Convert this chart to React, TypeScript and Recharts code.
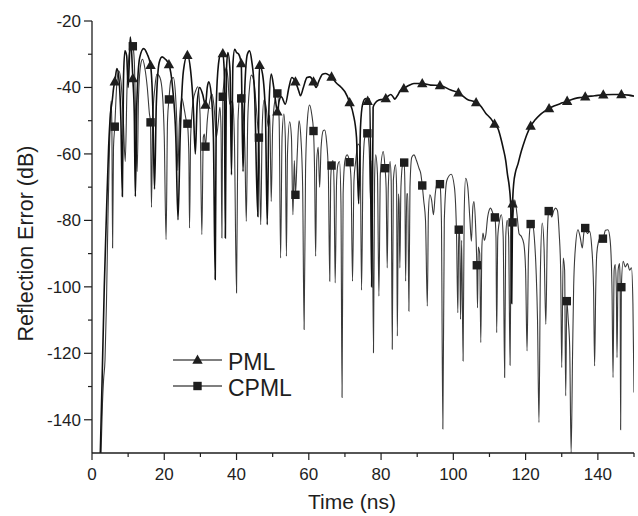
import React from 'react';
import { LineChart, Line, XAxis, YAxis } from 'recharts';

const X_MAJOR = [0, 20, 40, 60, 80, 100, 120, 140];
const X_MINOR = [10, 30, 50, 70, 90, 110, 130, 150];
const Y_MAJOR = [-140, -120, -100, -80, -60, -40, -20];
const Y_MINOR = [-130, -110, -90, -70, -50, -30];

const PML_POINTS: [number, number][] = [
  [2.3,-150],[2.8,-128],[3.4,-100],[4.0,-78],[4.6,-58],[5.1,-48],[5.6,-44],[6.0,-40],[6.3,-38.3],[6.9,-34.3],
  [7.5,-38],[8.0,-50],[8.4,-72.8],[8.7,-38],[9.1,-29],[9.6,-30.5],[10.0,-40],[10.3,-33],[10.6,-24.8],[11.0,-30],
  [11.3,-37.3],[11.7,-48],[12.0,-72.8],[12.4,-45],[13.2,-31],[14.3,-28.3],[15.3,-30],[16.2,-33.3],[16.8,-45],[17.3,-70.6],
  [17.8,-45],[18.6,-32.5],[19.4,-30.8],[20.3,-31.5],[21.3,-33.1],[22.3,-40],[23.2,-55],[23.8,-79.8],[24.4,-55],[25.3,-35],
  [26.4,-30.3],[27.3,-35],[28.0,-45],[28.6,-60],[29.1,-45],[29.8,-40],[30.6,-42],[31.4,-45.3],[31.9,-40],[32.3,-38.3],
  [33.0,-42],[33.6,-55],[34.1,-97.8],[34.4,-45],[35.0,-33],[35.6,-30],[36.2,-29.8],[36.6,-35],[36.9,-85.3],[37.2,-35],
  [37.6,-29.5],[38.2,-35],[38.6,-66.3],[39.0,-33],[39.5,-28.5],[40.0,-29.5],[40.6,-30],[41.3,-32.8],[41.8,-65.3],[42.3,-40],
  [43.0,-30],[43.6,-29],[44.2,-32],[45.0,-42],[45.9,-78.8],[46.2,-40],[46.4,-33.3],[47.2,-36],[48.0,-48],[48.5,-81.3],
  [49.0,-45],[49.6,-36],[50.3,-40],[50.8,-44],[51.3,-47.3],[51.8,-44],[52.4,-42.8],[53.5,-45],[54.5,-40],[55.3,-37],
  [56.3,-38.3],[57.2,-41],[57.7,-42.5],[58.5,-40],[59.5,-37],[60.3,-36.8],[61.3,-38.3],[62.0,-40],[62.8,-38],[63.8,-36],
  [64.6,-35.8],[65.5,-36.2],[66.3,-36.8],[67.5,-38.5],[69.0,-40],[70.0,-41.3],[71.3,-44.5],[72.3,-48],[73.2,-55],[73.8,-75],
  [74.3,-52],[74.9,-45],[75.7,-43.3],[76.3,-44.1],[76.9,-43.5],[77.4,-100],[77.8,-46],[78.3,-44.8],[79.4,-43.8],[80.3,-43.6],
  [81.3,-43.3],[82.0,-42.5],[82.7,-42.1],[83.3,-42.8],[83.8,-43.5],[84.5,-42.5],[85.3,-41],[86.3,-40.3],[87.5,-39.5],[89.1,-38.8],
  [91.4,-38.8],[93.7,-39.3],[96.3,-39.4],[99.3,-40.8],[101.4,-41.6],[103.9,-43.6],[106.3,-44.5],[107.5,-45.5],[109.0,-47.8],[110.3,-49.3],
  [111.4,-51],[112.4,-52.5],[113.2,-55.5],[113.8,-58.3],[114.5,-62],[115.0,-66.3],[115.5,-70],[115.9,-76],[116.15,-105],[116.4,-75],
  [116.7,-69],[117.2,-65.5],[117.9,-63],[118.6,-60],[119.3,-57.5],[120.3,-54.3],[121.4,-51.6],[122.6,-49.8],[123.9,-48.3],[125.2,-47.2],
  [126.5,-46.3],[128.0,-45.5],[129.0,-45.1],[130.2,-44.6],[131.5,-44.1],[132.8,-43.6],[134.1,-43.2],[135.3,-43],[136.5,-42.8],[139.1,-42.5],
  [141.5,-42.2],[144.2,-42.1],[146.5,-42.1],[148.5,-42.3],[150,-42.6],
];

const CPML_POINTS: [number, number][] = [
  [2.5,-150],[2.9,-135],[3.2,-128],[3.6,-122],[4.0,-105],[4.4,-80],[4.8,-60],[5.1,-48],[5.3,-44],[5.5,-52],
  [5.7,-88.3],[5.95,-58],[6.3,-51.8],[6.8,-40],[7.4,-35],[8.0,-38],[8.6,-48],[9.2,-62.3],[9.7,-40],[10.3,-30],
  [10.9,-27],[11.3,-27.6],[11.7,-32],[12.1,-50],[12.5,-65.3],[12.9,-42],[13.5,-33],[14.0,-31.5],[14.6,-34],[15.3,-40],
  [15.9,-48],[16.2,-50.5],[16.45,-76.1],[16.8,-50],[17.4,-40],[18.0,-36],[18.8,-37],[19.5,-42],[20.0,-55],[20.5,-85.8],
  [20.9,-50],[21.3,-43.6],[21.8,-38],[22.5,-37],[23.1,-42],[23.5,-52],[23.75,-65],[24.2,-50],[24.9,-43.3],[25.6,-47],
  [26.1,-50],[26.4,-50.9],[26.8,-60],[27.0,-82.3],[27.3,-55],[28.0,-44],[28.7,-41],[29.3,-39.8],[29.9,-48],[30.4,-84.3],
  [30.8,-55],[31.1,-54],[31.4,-57.8],[31.9,-50],[32.6,-44],[33.2,-42],[33.8,-46],[34.4,-55],[35.0,-50],[35.4,-46],
  [35.7,-52],[35.95,-85.3],[36.2,-42.8],[36.6,-38],[37.1,-34],[37.6,-37],[38.1,-45],[38.9,-44],[39.4,-55],[40.0,-101.8],
  [40.4,-50],[41.0,-42],[41.3,-43.3],[41.8,-47],[42.3,-58],[42.7,-80.3],[43.1,-50],[43.6,-40],[44.1,-36.3],[44.8,-38],
  [45.4,-45],[45.9,-52],[46.2,-55.1],[46.7,-81.3],[47.1,-52],[47.6,-43.8],[48.2,-46],[48.8,-52],[49.2,-48.3],[49.6,-74.3],
  [50.0,-52],[50.6,-44],[51.3,-41.8],[51.8,-50],[52.2,-91.3],[52.6,-55],[53.1,-48],[53.5,-55],[53.8,-90.8],[54.1,-60],
  [54.7,-50.3],[55.2,-55],[55.6,-78.3],[56.0,-62],[56.3,-72.3],[56.8,-60],[57.3,-50],[57.8,-55],[58.3,-70],[58.7,-112.8],
  [59.1,-65],[59.6,-50],[60.2,-45.3],[60.8,-48],[61.3,-53.1],[61.6,-65],[61.9,-90.8],[62.2,-62],[62.6,-58],[63.0,-70],
  [63.4,-58],[64.0,-53],[64.4,-52.8],[64.9,-56],[65.4,-65],[65.8,-98.3],[66.05,-68],[66.3,-63.5],[66.7,-62],[67.0,-70],
  [67.3,-98.8],[67.7,-68],[68.1,-63],[68.5,-62.3],[68.9,-75],[69.2,-133.3],[69.5,-72],[70.0,-62],[70.6,-60.3],[71.3,-62.5],
  [71.7,-68],[72.1,-98.3],[72.5,-68],[73.0,-62],[73.6,-57],[74.2,-58],[74.6,-101],[75.0,-65],[75.5,-55],[76.2,-53.8],
  [76.7,-58],[77.1,-75],[77.5,-62],[77.9,-119.8],[78.2,-68],[78.5,-60.3],[79.0,-66],[79.4,-102.8],[79.8,-66],[80.6,-59.3],
  [81.1,-64.3],[81.4,-70],[81.7,-94.3],[82.0,-70],[82.5,-62.3],[82.8,-68],[83.1,-118.8],[83.4,-68],[84.0,-63.3],[84.3,-70],
  [84.5,-114.8],[84.8,-72],[85.0,-75],[85.2,-94.3],[85.5,-70],[86.0,-63],[86.4,-62.6],[86.6,-70],[86.8,-98.3],[87.1,-72],
  [87.4,-72],[87.7,-107.3],[88.0,-70],[88.5,-61],[89.1,-60.3],[89.8,-62],[90.5,-64.3],[91.0,-66],[91.4,-69.5],[91.8,-74],
  [92.3,-80],[92.8,-105.8],[93.1,-78],[93.5,-72.3],[94.0,-74],[94.5,-78.3],[95.0,-72],[95.6,-68.3],[96.3,-69.1],[96.7,-80],
  [97.1,-142.8],[97.5,-80],[98.2,-68],[99.4,-66.1],[100.3,-70],[100.9,-85],[101.25,-107.8],[101.5,-82.8],[101.75,-85],[102.0,-109.8],
  [102.3,-86],[102.7,-122.3],[103.0,-78],[103.4,-67.3],[104.0,-70],[104.6,-80],[105.0,-86.3],[105.4,-76],[105.7,-74.3],[106.1,-80],
  [106.5,-93.5],[106.7,-106.3],[106.9,-88],[107.3,-90],[107.6,-116.8],[107.9,-88],[108.2,-83.8],[108.6,-86],[109.0,-84.3],[109.5,-79],
  [110.3,-76.3],[111.0,-78],[111.5,-79.1],[111.8,-85],[112.0,-113.8],[112.3,-85],[112.8,-80],[113.3,-78.3],[113.8,-85],[114.2,-127.3],
  [114.5,-85],[114.9,-80],[115.3,-85],[115.7,-123.6],[116.0,-85],[116.4,-80.6],[117.0,-73.8],[117.6,-78],[118.2,-84],[118.8,-84.8],
  [119.5,-87],[120.0,-95],[120.4,-119.3],[120.8,-90],[121.4,-81.1],[121.8,-80.8],[122.4,-85],[122.9,-95],[123.3,-110],[123.7,-140.8],
  [124.1,-95],[124.6,-80.8],[125.1,-88],[125.6,-111.3],[126.0,-85],[126.4,-77.2],[126.7,-76.8],[127.2,-79],[127.8,-77],[128.3,-76.3],
  [128.8,-77],[129.3,-84],[129.7,-95],[130.0,-124.3],[130.4,-91.3],[130.8,-95],[131.1,-132.8],[131.4,-104.3],[131.8,-110],[132.2,-118],
  [132.6,-150],[133.0,-120],[133.3,-100],[133.8,-88],[134.5,-82.8],[135.1,-85],[135.7,-88.3],[136.1,-84],[136.5,-82.3],[137.1,-84],
  [137.7,-83.3],[138.3,-88],[138.8,-100],[139.1,-123.8],[139.4,-101.3],[139.7,-90],[140.2,-86.3],[140.8,-85],[141.4,-85.5],[142.1,-83],
  [142.8,-82.8],[143.4,-86],[143.9,-100],[144.2,-127.3],[144.5,-95],[144.8,-93.3],[145.1,-100],[145.3,-121.3],[145.6,-95],[146.0,-93],
  [146.15,-98],[146.3,-143],[146.5,-100.1],[147.0,-92.3],[147.6,-94],[148.2,-93],[148.8,-95],[149.3,-94.3],[149.7,-105],[150.0,-131.8],
];

const PML_MARKER_TIMES = [6.3, 11.3, 16.2, 21.3, 26.4, 31.4, 36.2, 41.3, 46.4, 51.3, 56.3, 61.3, 66.3, 71.3, 76.3, 81.3, 86.3, 91.4, 96.3, 101.4, 106.3, 111.4, 116.4, 121.4, 126.5, 131.5, 136.5, 141.5, 146.5];
const CPML_MARKER_TIMES = [6.3, 11.3, 16.2, 21.3, 26.4, 31.4, 36.2, 41.3, 46.2, 51.3, 56.3, 61.3, 66.3, 71.3, 76.2, 81.1, 86.4, 91.4, 96.3, 101.5, 106.5, 111.5, 116.4, 121.4, 126.4, 131.4, 136.5, 141.4, 146.5];

const pmlData = PML_POINTS.map(([t, v]) => ({ t, v }));
const cpmlData = CPML_POINTS.map(([t, v]) => ({ t, v }));
const pmlMarkSet = new Set(PML_MARKER_TIMES);
const cpmlMarkSet = new Set(CPML_MARKER_TIMES);

const FONT = '"Liberation Sans", Arial, Helvetica, sans-serif';
const INK = '#1e1e1e';
const TICK_SIZE = 7;
const X_MARGIN = 8;
const Y_MARGIN = 4;

const Triangle = ({ cx, cy, fill = INK }: any) => (
  <polygon points={`${cx},${cy - 5.5} ${cx - 5.2},${cy + 3.8} ${cx + 5.2},${cy + 3.8}`} fill={fill} />
);
const Square = ({ cx, cy, fill = INK }: any) => (
  <rect x={cx - 4.2} y={cy - 4.2} width={8.4} height={8.4} fill={fill} />
);

const pmlDot = (p: any) => {
  const { cx, cy, payload, index } = p;
  if (!pmlMarkSet.has(payload.t) || cx == null) return <g key={`pd${index}`} />;
  return <g key={`pd${index}`}><Triangle cx={cx} cy={cy} /></g>;
};
const cpmlDot = (p: any) => {
  const { cx, cy, payload, index } = p;
  if (!cpmlMarkSet.has(payload.t) || cx == null) return <g key={`cd${index}`} />;
  return <g key={`cd${index}`}><Square cx={cx} cy={cy} /></g>;
};

const XTick = (props: any) => {
  const { x, y, payload } = props;
  const axisY = y - TICK_SIZE - X_MARGIN;
  const major = X_MAJOR.includes(payload.value);
  return (
    <g>
      <line x1={x} x2={x} y1={axisY} y2={axisY + (major ? 7 : 4)} stroke={INK} strokeWidth={1.2} />
      {major && (
        <text x={x} y={y} dy="0.71em" textAnchor="middle" fontSize={17} fontFamily={FONT} fill={INK}>
          {payload.value}
        </text>
      )}
    </g>
  );
};

const YTick = (props: any) => {
  const { x, y, payload } = props;
  const axisX = x + TICK_SIZE + Y_MARGIN;
  const major = Y_MAJOR.includes(payload.value);
  return (
    <g>
      <line x1={axisX - (major ? 8 : 4)} x2={axisX} y1={y} y2={y} stroke={INK} strokeWidth={1.2} />
      {major && (
        <text x={x} y={y} dy="0.355em" textAnchor="end" fontSize={17} fontFamily={FONT} fill={INK}>
          {payload.value}
        </text>
      )}
    </g>
  );
};

const XLabel = (props: any) => {
  const vb = props.viewBox || { x: 92, y: 453, width: 542, height: 63 };
  return (
    <text x={vb.x + vb.width / 2 - 11} y={vb.y + 56} textAnchor="middle" fontSize={21} fontFamily={FONT} fill={INK}>
      Time (ns)
    </text>
  );
};

const YLabel = (props: any) => {
  const vb = props.viewBox || { x: 0, y: 21, width: 92, height: 432 };
  const cy = vb.y + vb.height / 2 + 6.5;
  return (
    <text transform={`translate(${vb.x + 25},${cy}) rotate(-90)`} x={0} y={0} dy="0.355em" textAnchor="middle" fontSize={21.5} fontFamily={FONT} fill={INK}>
      Reflection Error (dB)
    </text>
  );
};

const LegendRow = ({ label, kind }: { label: string; kind: 'tri' | 'sq' }) => (
  <div style={{ display: 'flex', alignItems: 'center', height: 26 }}>
    <svg width={56} height={26} style={{ display: 'block' }}>
      <line x1={3} x2={52} y1={13} y2={13} stroke="#555" strokeWidth={1.4} />
      {kind === 'tri' ? <Triangle cx={27.5} cy={13} /> : <Square cx={27.5} cy={13} />}
    </svg>
    <span style={{ fontFamily: FONT, fontSize: 23, color: INK, lineHeight: '26px', marginLeft: 2, marginTop: 3 }}>{label}</span>
  </div>
);

export default function App() {
  return (
    <div style={{ position: 'absolute', left: 0, top: 0, width: 638, height: 516, background: '#fff' }}>
      <LineChart width={638} height={516} margin={{ top: 21, right: 4, bottom: 0, left: 0 }}>
        <XAxis
          type="number"
          dataKey="t"
          domain={[0, 150]}
          ticks={[...X_MAJOR, ...X_MINOR].sort((a, b) => a - b)}
          interval={0}
          height={63}
          tickSize={TICK_SIZE}
          tickMargin={X_MARGIN}
          tickLine={false}
          tick={<XTick />}
          axisLine={{ stroke: INK, strokeWidth: 1.3 }}
          allowDataOverflow
          label={<XLabel />}
        />
        <YAxis
          type="number"
          dataKey="v"
          domain={[-150, -20]}
          ticks={[...Y_MAJOR, ...Y_MINOR].sort((a, b) => a - b)}
          interval={0}
          width={92}
          tickSize={TICK_SIZE}
          tickMargin={Y_MARGIN}
          tickLine={false}
          tick={<YTick />}
          axisLine={{ stroke: INK, strokeWidth: 1.3 }}
          allowDataOverflow
          label={<YLabel />}
        />
        <Line
          data={cpmlData}
          dataKey="v"
          type="monotoneX"
          stroke="#3a3a3a"
          strokeWidth={1.1}
          dot={cpmlDot}
          activeDot={false}
          isAnimationActive={false}
        />
        <Line
          data={pmlData}
          dataKey="v"
          type="monotoneX"
          stroke="#111"
          strokeWidth={1.6}
          dot={pmlDot}
          activeDot={false}
          isAnimationActive={false}
        />
      </LineChart>
      <div style={{ position: 'absolute', left: 170, top: 347 }}>
        <LegendRow label="PML" kind="tri" />
        <LegendRow label="CPML" kind="sq" />
      </div>
    </div>
  );
}
